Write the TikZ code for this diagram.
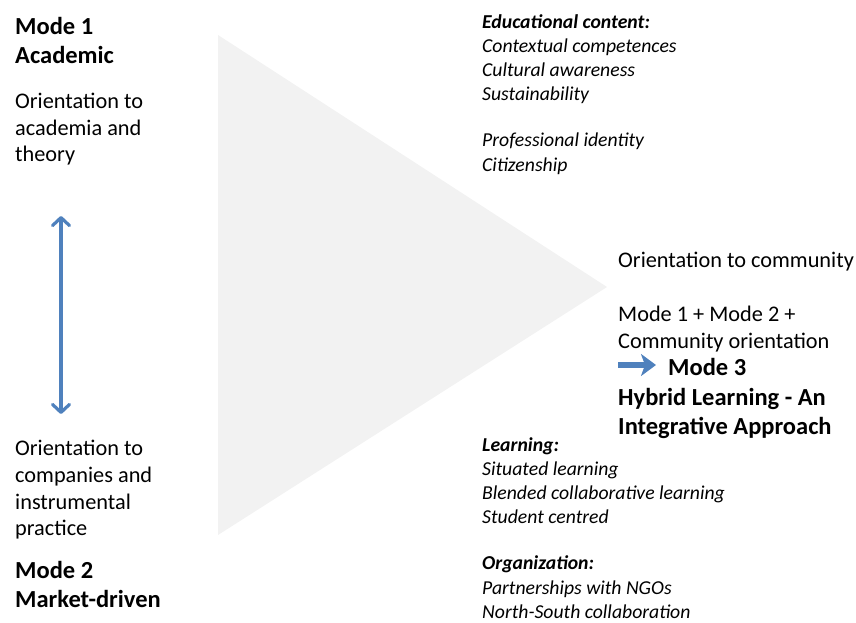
\documentclass[tikz,border=0pt]{standalone}
\usepackage{fontspec}
\setmainfont{Carlito}
\usetikzlibrary{arrows.meta}
\definecolor{modeblue}{HTML}{4F81BD}
\definecolor{wedgegray}{HTML}{F2F2F2}
\begin{document}
\begin{tikzpicture}[x=1pt, y=-1pt,
   every node/.style={inner sep=0pt, align=left, anchor=north west},
   body/.style={font=\fontsize{22.3}{26.9}\selectfont},
   head/.style={font=\fontsize{24.5}{29.5}\selectfont\bfseries},
   note/.style={font=\fontsize{19.7}{24.1}\selectfont\itshape},
   twoway/.style={modeblue, line width=3.2pt,
     {Straight Barb[length=8pt,width=17pt,round]}-{Straight Barb[length=8pt,width=17pt,round]}},
   push/.style={modeblue, line width=6pt, -{Stealth[length=15pt,width=22pt,inset=4pt]}}]

\useasboundingbox (0,0) rectangle (856,623);
\fill[wedgegray] (218,35) -- (607,287) -- (218,535) -- cycle;

\node[head] (mode1) at (15,16.7) {Mode 1\\Academic};
\node[body] (acad) at (15,92.5) {Orientation to\\academia and\\theory};
\node[body] (comp) at (15,439.6) {Orientation to\\companies and\\instrumental\\practice};
\node[head] (mode2) at (15,560.7) {Mode 2\\Market-driven};

\coordinate (up) at (61,216);
\coordinate (down) at (61,414);
\draw[twoway] (up) -- (down);

\node[note] (content) at (482,14.5) {\textbf{Educational content:}\\Contextual competences\\Cultural awareness\\Sustainability\\[22pt]Professional identity\\Citizenship};
\node[note] (learn) at (482,437.5) {\textbf{Learning:}\\Situated learning\\Blended collaborative learning\\Student centred\\[22pt]\textbf{Organization:}\\Partnerships with NGOs\\North-South collaboration};

\node[body] (commu) at (618,252) {Orientation to community\\[26.9pt]Mode 1 + Mode 2 +\\Community orientation};
\node[head, anchor=base west] (mode3) at (668,375) {Mode 3};
\node[head] (hybrid) at (618,387.7) {Hybrid Learning - An\\Integrative Approach};

\coordinate (push) at (618,365);
\draw[push] (push) -- (push -| mode3.west) [shorten >=12pt];

\end{tikzpicture}
\end{document}
